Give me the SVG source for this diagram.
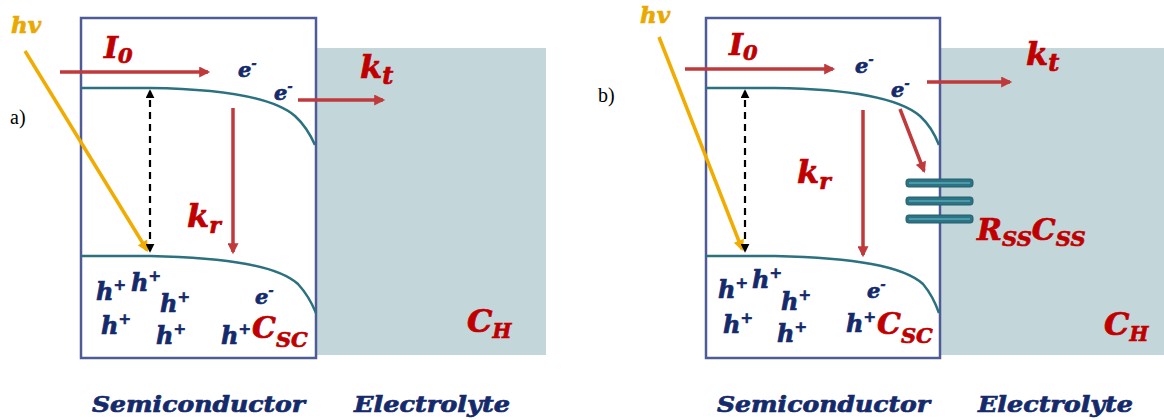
<svg xmlns="http://www.w3.org/2000/svg" width="1164" height="420" viewBox="0 0 1164 420">
<style>
.box{fill:#fff;stroke:#4d5c96;stroke-width:2.5}
.ely{fill:#c3d6da}
.band{fill:none;stroke:#2b717f;stroke-width:2.5}
.red{fill:none;stroke:#c0393b;stroke-width:3.5;marker-end:url(#ar)}
.light{fill:none;stroke:#f0ac00;stroke-width:3.5;marker-end:url(#ao)}
.dash{fill:none;stroke:#000;stroke-width:2.2;stroke-dasharray:7 5;marker-start:url(#ab);marker-end:url(#ab)}
.plate{fill:#2d7384;stroke:#235f6e;stroke-width:1}
.stripe{fill:none;stroke:#4a9aab;stroke-width:2}
.t{font-family:"DejaVu Serif",serif;font-weight:bold;font-style:italic;stroke-width:0.7;paint-order:stroke}
.nv{fill:#142a6b;stroke:#142a6b}
.rd{fill:#c00000;stroke:#c00000}
.or{fill:#e9a900;stroke:#e9a900}
.lab{font-family:"Liberation Serif",serif;font-size:20px;fill:#000}
</style>
<defs>
<marker id="ar" viewBox="0 0 10 10" refX="8" refY="5" markerWidth="12" markerHeight="11" markerUnits="userSpaceOnUse" orient="auto"><path d="M0,0 L10,5 L0,10 z" fill="#c0393b"/></marker>
<marker id="ao" viewBox="0 0 10 10" refX="8" refY="5" markerWidth="12" markerHeight="11" markerUnits="userSpaceOnUse" orient="auto"><path d="M0,0 L10,5 L0,10 z" fill="#f0ac00"/></marker>
<marker id="ab" viewBox="0 0 10 10" refX="8" refY="5" markerWidth="9" markerHeight="9" markerUnits="userSpaceOnUse" orient="auto-start-reverse"><path d="M0,0 L10,5 L0,10 z" fill="#000"/></marker>
</defs>

<!-- Panel a -->
<g id="a-electrolyte"><rect class="ely" x="316" y="48" width="230" height="307"/></g>
<g id="a-semiconductor"><rect class="box" x="81" y="18" width="235" height="340"/></g>
<g id="a-bands">
<path class="band" d="M81,88 L150,88 C230,89 275,99 295,116 Q307,127 315,145"/>
<path class="band" d="M81,256 L150,256 C230,258 278,266 298,284 Q309,296 316,313"/>
</g>
<g id="a-connectors">
<line class="light" x1="25" y1="51" x2="147" y2="250"/>
<line class="dash" x1="150" y1="251" x2="150" y2="91"/>
<line class="red" x1="60" y1="72" x2="208" y2="72"/>
<line class="red" x1="298" y1="100" x2="383" y2="100"/>
<line class="red" x1="233" y1="108" x2="233" y2="252"/>
</g>
<g id="a-labels">
<text class="lab" x="10" y="124">a)</text>
<text class="t or" x="11" y="33" font-size="23">hv</text>
<text class="t rd" x="104" y="58" font-size="30">I<tspan font-size="21" dy="5">0</tspan></text>
<text class="t nv" x="238" y="77" font-size="21">e<tspan font-size="12" dy="-9">-</tspan></text>
<text class="t nv" x="274" y="100" font-size="21">e<tspan font-size="12" dy="-9">-</tspan></text>
<text class="t rd" x="360" y="78" font-size="32">k<tspan font-size="24" dy="6">t</tspan></text>
<text class="t rd" x="187" y="227" font-size="32">k<tspan font-size="22" dy="6">r</tspan></text>
<text class="t nv" x="96" y="300" font-size="24">h<tspan font-size="15" dy="-10">+</tspan></text>
<text class="t nv" x="131" y="291" font-size="24">h<tspan font-size="15" dy="-10">+</tspan></text>
<text class="t nv" x="160" y="312" font-size="24">h<tspan font-size="15" dy="-10">+</tspan></text>
<text class="t nv" x="101" y="334" font-size="24">h<tspan font-size="15" dy="-10">+</tspan></text>
<text class="t nv" x="156" y="344" font-size="24">h<tspan font-size="15" dy="-10">+</tspan></text>
<text class="t nv" x="221" y="344" font-size="24">h<tspan font-size="15" dy="-10">+</tspan></text>
<text class="t nv" x="255" y="304" font-size="21">e<tspan font-size="12" dy="-9">-</tspan></text>
<text class="t rd" x="252" y="338" font-size="30">C<tspan font-size="21" dy="9">SC</tspan></text>
<text class="t rd" x="467" y="332" font-size="32">C<tspan font-size="20" dy="6">H</tspan></text>
<text class="t nv" x="92" y="412" font-size="23" textLength="213" lengthAdjust="spacingAndGlyphs">Semiconductor</text>
<text class="t nv" x="354" y="412" font-size="23" textLength="156" lengthAdjust="spacingAndGlyphs">Electrolyte</text>
</g>

<!-- Panel b -->
<g id="b-electrolyte"><rect class="ely" x="940" y="48" width="224" height="307"/></g>
<g id="b-semiconductor"><rect class="box" x="706" y="18" width="234" height="340"/></g>
<g id="b-bands">
<path class="band" d="M706,88 L775,88 C855,89 900,99 920,116 Q932,127 939,145"/>
<path class="band" d="M706,256 L775,256 C855,258 903,266 923,284 Q933,296 939,313"/>
</g>
<g id="b-capacitor">
<rect class="plate" x="906" y="179" width="67" height="8" rx="2.5"/>
<line class="stripe" x1="909" y1="183" x2="970" y2="183"/>
<rect class="plate" x="906" y="197" width="67" height="8" rx="2.5"/>
<line class="stripe" x1="909" y1="201" x2="970" y2="201"/>
<rect class="plate" x="906" y="215" width="67" height="8" rx="2.5"/>
<line class="stripe" x1="909" y1="219" x2="970" y2="219"/>
</g>
<g id="b-connectors">
<line class="light" x1="659" y1="37" x2="742" y2="249"/>
<line class="dash" x1="745" y1="251" x2="745" y2="91"/>
<line class="red" x1="685" y1="69" x2="833" y2="69"/>
<line class="red" x1="927" y1="82" x2="1010" y2="82"/>
<line class="red" x1="900" y1="109" x2="924" y2="171"/>
<line class="red" x1="863" y1="110" x2="863" y2="255"/>
</g>
<g id="b-labels">
<text class="lab" x="598" y="102">b)</text>
<text class="t or" x="640" y="23" font-size="23">hv</text>
<text class="t rd" x="729" y="55" font-size="30">I<tspan font-size="21" dy="5">0</tspan></text>
<text class="t nv" x="855" y="73" font-size="21">e<tspan font-size="12" dy="-9">-</tspan></text>
<text class="t nv" x="891" y="97" font-size="21">e<tspan font-size="12" dy="-9">-</tspan></text>
<text class="t rd" x="1026" y="65" font-size="32">k<tspan font-size="24" dy="6">t</tspan></text>
<text class="t rd" x="797" y="183" font-size="32">k<tspan font-size="22" dy="6">r</tspan></text>
<text class="t rd" x="977" y="240" font-size="30">R<tspan font-size="21" dy="6">SS</tspan><tspan dy="-6">C</tspan><tspan font-size="21" dy="6">SS</tspan></text>
<text class="t nv" x="718" y="298" font-size="24">h<tspan font-size="15" dy="-10">+</tspan></text>
<text class="t nv" x="752" y="288" font-size="24">h<tspan font-size="15" dy="-10">+</tspan></text>
<text class="t nv" x="781" y="310" font-size="24">h<tspan font-size="15" dy="-10">+</tspan></text>
<text class="t nv" x="723" y="333" font-size="24">h<tspan font-size="15" dy="-10">+</tspan></text>
<text class="t nv" x="777" y="342" font-size="24">h<tspan font-size="15" dy="-10">+</tspan></text>
<text class="t nv" x="846" y="332" font-size="24">h<tspan font-size="15" dy="-10">+</tspan></text>
<text class="t nv" x="867" y="298" font-size="21">e<tspan font-size="12" dy="-9">-</tspan></text>
<text class="t rd" x="877" y="334" font-size="30">C<tspan font-size="21" dy="9">SC</tspan></text>
<text class="t rd" x="1104" y="335" font-size="32">C<tspan font-size="20" dy="6">H</tspan></text>
<text class="t nv" x="717" y="412" font-size="23" textLength="213" lengthAdjust="spacingAndGlyphs">Semiconductor</text>
<text class="t nv" x="978" y="412" font-size="23" textLength="155" lengthAdjust="spacingAndGlyphs">Electrolyte</text>
</g>
</svg>
